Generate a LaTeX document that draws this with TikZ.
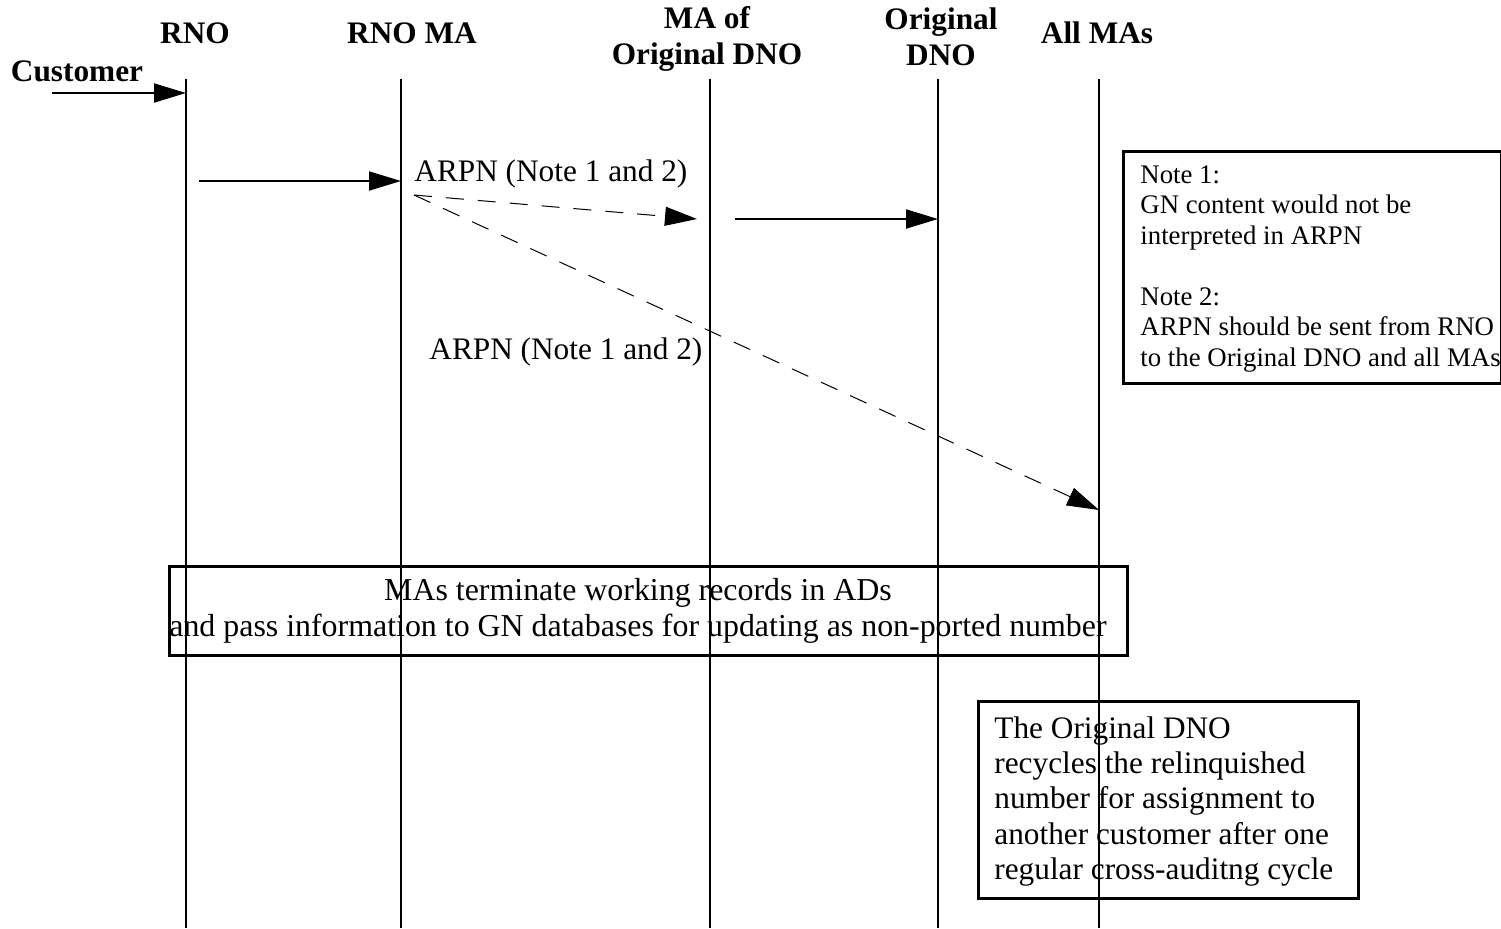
\documentclass[tikz,border=0pt]{standalone}
\usepackage{fontspec}
\setmainfont{Liberation Serif}
\usetikzlibrary{arrows.meta}
\begin{document}
\begin{tikzpicture}[x=0.5pt,y=-0.5pt,
  hdr/.style={font=\fontsize{15.65}{18}\selectfont\bfseries, align=center, inner sep=0},
  txt/.style={font=\fontsize{15.65}{17.65}\selectfont, inner sep=0},
  boxtxt/.style={font=\fontsize{15.95}{17.65}\selectfont, inner sep=0},
  notetxt/.style={font=\fontsize{13.4}{15.25}\selectfont, inner sep=0, align=left},
  life/.style={line width=1pt},
  msg/.style={line width=1pt, -{Triangle[length=16pt,width=9.5pt]}},
  dmsg/.style={line width=0.5pt, dash pattern=on 9pt off 7pt, -{Triangle[length=16pt,width=9.5pt]}},
  boxed/.style={draw, line width=1.5pt, inner sep=0, anchor=north west}
]
\useasboundingbox (0,0) rectangle (1501,928);

% headers
\node[hdr] (h-rno) at (195,33) {RNO};
\node[hdr] (h-rnoma) at (412,33) {RNO MA};
\node[hdr] (h-maodno) at (707,39) {MA of\\Original DNO};
\node[hdr] (h-odno) at (941,37) {Original\\DNO};
\node[hdr] (h-allma) at (1097,33) {All MAs};
\node[hdr] (h-cust) at (77,71) {Customer};

% lifelines
\foreach \n/\x in {rno/186, rnoma/401, maodno/710, odno/938, allma/1099} {
  \coordinate (\n-t) at (\x,79);
  \coordinate (\n-b) at (\x,928);
  \draw[life] (\n-t) -- (\n-b);
}

% messages
\coordinate (cust) at (52,93);
\draw[msg] (cust) -- (cust -| rno-t);
\coordinate (m1s) at (199,181);
\draw[msg] (m1s) -- (m1s -| rnoma-t);
\coordinate (m2s) at (414,195);
\coordinate (m2e) at (697,219);
\draw[dmsg] (m2s) -- (m2e);
\coordinate (m3s) at (735,219);
\draw[msg] (m3s) -- (m3s -| odno-t);
\coordinate (m4e) at (1099,510);
\draw[dmsg] (m2s) -- (m4e);

\node[txt, anchor=west] (l1) at (414,174) {ARPN (Note 1 and 2)};
\node[txt, anchor=west] (l2) at (429,352) {ARPN (Note 1 and 2)};

% note box
\node[boxed, minimum width=189pt, minimum height=116pt] (note) at (1122,150) {};
\node[notetxt, anchor=north west] (notet) at (1140,165)
  {Note 1:\\GN content would not be\\interpreted in ARPN\\[15.25pt]Note 2:\\ARPN should be sent from RNO\\to the Original DNO and all MAs};

% main box
\node[boxed, minimum width=479pt, minimum height=44.5pt] (mbox) at (168,565) {};
\node[boxtxt, align=center] (mboxt) at (638,611)
  {MAs terminate working records in ADs\\and pass information to GN databases for updating as non-ported number};

% bottom box
\node[boxed, minimum width=190pt, minimum height=98.5pt] (rbox) at (977,700) {};
\node[txt, align=left, anchor=north west] (rboxt) at (994,716)
  {The Original DNO\\recycles the relinquished\\number for assignment to\\another customer after one\\regular cross-auditng cycle};
\end{tikzpicture}
\end{document}
